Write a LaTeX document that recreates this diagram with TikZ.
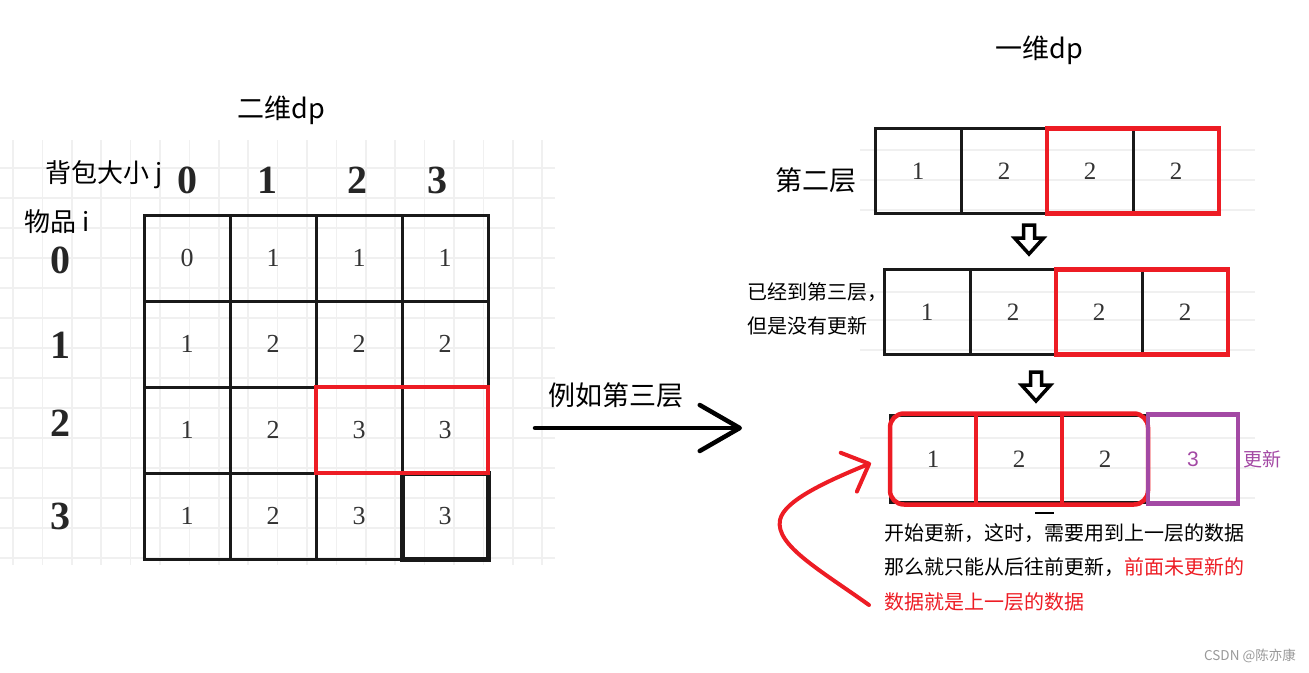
\documentclass[tikz,border=0pt]{standalone}
\usepackage{fontspec}
\setmainfont{Liberation Serif}
\newfontfamily\cjk{Noto Sans CJK SC}
\newfontfamily\digsans{Liberation Sans}
\usetikzlibrary{arrows.meta, positioning}
\definecolor{pred}{HTML}{ED1C24}
\definecolor{ppurple}{HTML}{A349A4}
\definecolor{bgline}{HTML}{F0F0F0}
\tikzset{
    cell/.style={rectangle, draw=black!90, line width=3pt, minimum width=86pt, minimum height=86pt, inner sep=0pt, outer sep=0pt, text=black!80, font=\fontsize{26}{26}\selectfont},
    rowcell/.style={cell, minimum height=85pt, font=\fontsize{25}{25}\selectfont},
    head/.style={inner sep=0pt, text=black!85, font=\bfseries\fontsize{40}{40}\selectfont},
    dptitle/.style={inner sep=0pt, font=\cjk\fontsize{27}{27}\selectfont},
    axislabel/.style={inner sep=0pt, anchor=west, font=\cjk\fontsize{26}{26}\selectfont},
    note/.style={inner sep=0pt, anchor=west, font=\cjk\fontsize{20}{20}\selectfont},
    redbox/.style={draw=pred, line width=4.5pt},
    bggrid/.style={draw=bgline, line width=1.5pt},
    arrow/.style={line width=4.5pt, line cap=round, -{Straight Barb[length=40pt, width=46pt, round]}},
    redarrow/.style={draw=pred, line width=4pt, line cap=round, -{Straight Barb[length=22pt, width=42pt, round]}},
    downarr/.pic={\draw[line width=3.5pt] (-5.5,-15) -- (5.5,-15) -- (5.5,-2) -- (14.5,-2) -- (0,14) -- (-14.5,-2) -- (-5.5,-2) -- cycle;}
}
\begin{document}
\begin{tikzpicture}[x=1pt, y=-1pt, node distance=0pt]
    \useasboundingbox (0,0) rectangle (1309,672);
    % faint canvas lines
    \draw[bggrid, xstep=29.4pt, ystep=30pt, shift={(13,18)}] (-13,122) grid (542,547);
    \foreach \y in {150,180,210,292,320,350,438,468,498}
        \draw[bggrid] (860,\y) -- (1255,\y);
    % 2D table
    \node (t2d) [dptitle] at (281,110) {二维dp};
    \node (bag) [axislabel] at (45,175) {背包大小 j};
    \node (item) [axislabel] at (24,222) {物品 i};
    \foreach \x/\j in {187/0, 267/1, 357/2, 437/3}
        \node (j\j) [head] at (\x,180) {\j};
    \foreach \y/\i in {260/0, 345/1, 423/2, 516/3}
        \node (i\i) [head] at (60,\y) {\i};
    \node (c00) [cell] at (187,258) {0};
    \node (c01) [cell, right=of c00] {1};
    \node (c02) [cell, right=of c01] {1};
    \node (c03) [cell, right=of c02] {1};
    \node (c10) [cell, below=of c00] {1};
    \node (c11) [cell, right=of c10] {2};
    \node (c12) [cell, right=of c11] {2};
    \node (c13) [cell, right=of c12] {2};
    \node (c20) [cell, below=of c10] {1};
    \node (c21) [cell, right=of c20] {2};
    \node (c22) [cell, right=of c21] {3};
    \node (c23) [cell, right=of c22] {3};
    \node (c30) [cell, below=of c20] {1};
    \node (c31) [cell, right=of c30] {2};
    \node (c32) [cell, right=of c31] {3};
    \node (c33) [cell, right=of c32, line width=5pt] {3};
    \draw[redbox] (c22.north west) rectangle (c23.south east);
    % arrow to the 1D array
    \coordinate (from2d) at (535,428);
    \coordinate (to1d) at (742,428);
    \draw[arrow] (from2d) -- node[dptitle, pos=0.39, above=18pt] {例如第三层} (to1d);
    % 1D array
    \node (t1d) [dptitle] at (1039,50) {一维dp};
    \node (r1a) [rowcell] at (918,171) {1};
    \node (r1b) [rowcell, right=of r1a] {2};
    \node (r1c) [rowcell, right=of r1b] {2};
    \node (r1d) [rowcell, right=of r1c] {2};
    \draw[redbox] (r1c.north west) rectangle (r1d.south east);
    \node (lay2) [dptitle] at (816,180) {第二层};
    \pic (down1) at (1029,240) {downarr};
    \node (r2a) [rowcell] at (927,312) {1};
    \node (r2b) [rowcell, right=of r2a] {2};
    \node (r2c) [rowcell, right=of r2b] {2};
    \node (r2d) [rowcell, right=of r2c] {2};
    \draw[redbox] (r2c.north west) rectangle (r2d.south east);
    \node (lay3) [note, align=left, font=\cjk\fontsize{20}{34}\selectfont] at (747,309) {已经到第三层，\\但是没有更新};
    \pic (down2) at (1036,387) {downarr};
    \node (r3a) [rowcell, minimum height=87pt] at (933,459) {1};
    \node (r3b) [rowcell, minimum height=87pt, right=of r3a] {2};
    \node (r3c) [rowcell, minimum height=87pt, right=of r3b] {2};
    \draw[redbox, rounded corners=14pt] ([yshift=2pt]r3a.north west) rectangle ([yshift=-2pt]r3c.south east);
    \draw[redbox] (r3a.north east) -- (r3a.south east);
    \draw[redbox] (r3b.north east) -- (r3b.south east);
    \node (r3d) [rowcell, draw=ppurple, line width=4.5pt, minimum width=90pt, minimum height=89pt, text=ppurple, font=\digsans\fontsize{21}{21}\selectfont, right=of r3c] {3};
    \node (upd) [note, text=ppurple, font=\cjk\fontsize{19}{19}\selectfont, right=5pt of r3d] {更新};
    \draw[line width=1.5pt] (1035,513) -- (1054,513);
    % explanation
    \node (n1) [note] at (884,533) {开始更新，这时，需要用到上一层的数据};
    \node (n2) [note] at (884,567) {那么就只能从后往前更新，\textcolor{pred}{前面未更新的}};
    \node (n3) [note, text=pred] at (884,602) {数据就是上一层的数据};
    \coordinate (curS) at (869,605);
    \coordinate (curT) at (871,463);
    \draw[redarrow] (curS) .. controls (820,570) and (775,545) .. (780,520) .. controls (784,500) and (830,480) .. (curT);
    \node (mark) [inner sep=0pt, anchor=east, text=black!40, font=\cjk\fontsize{13.5}{13.5}\selectfont] at (1296,656) {CSDN @陈亦康};
\end{tikzpicture}
\end{document}
